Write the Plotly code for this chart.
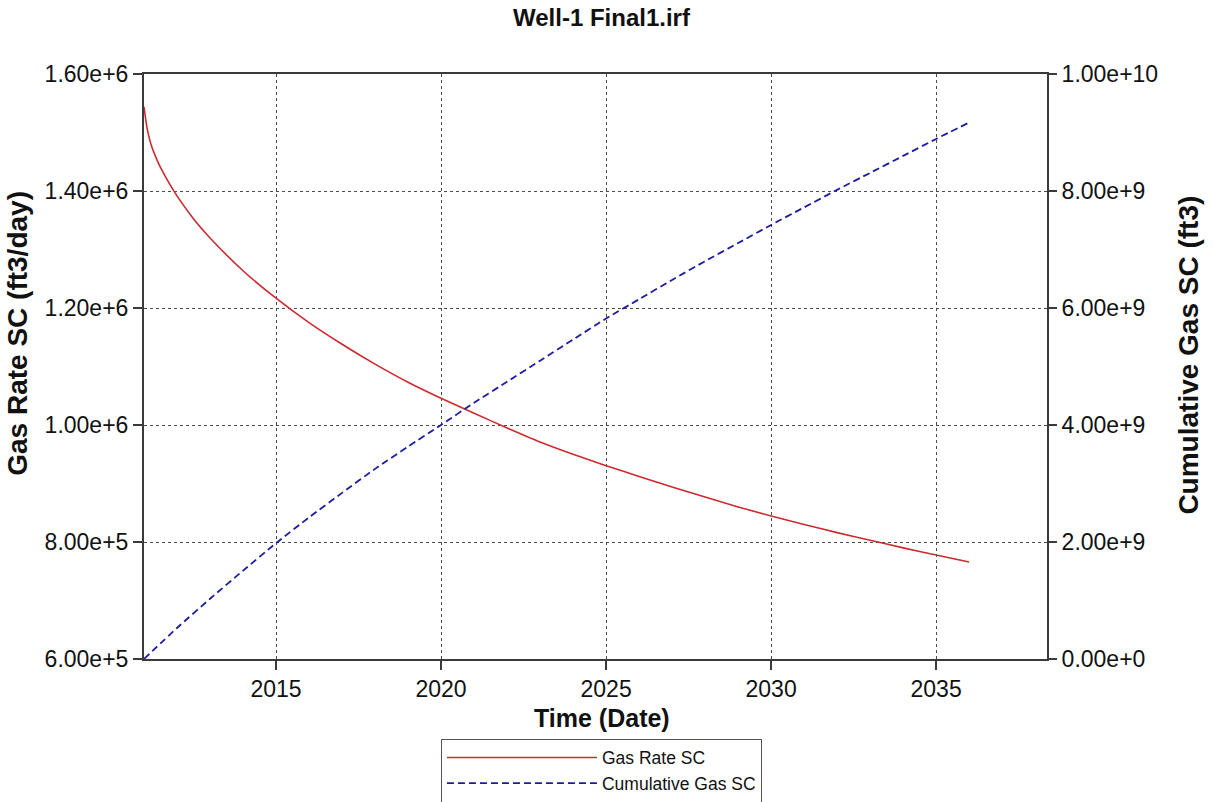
import plotly.graph_objects as go

# ---- data ----
rate_dates = ["2011-01-01", "2011-02-01", "2011-03-01", "2011-04-01", "2011-06-01", "2011-07-01",
              "2011-10-01", "2012-01-01", "2012-07-01", "2013-01-01", "2014-01-01", "2015-01-01",
              "2016-01-01", "2017-01-01", "2018-01-01", "2019-01-01", "2020-01-01", "2021-01-01",
              "2022-01-01", "2023-01-01", "2024-01-01", "2025-01-01", "2026-01-01", "2027-01-01",
              "2028-01-01", "2029-01-01", "2030-01-01", "2031-01-01", "2032-01-01", "2033-01-01",
              "2034-01-01", "2035-01-01", "2036-01-01"]
gas_rate = [1.544e6, 1.510e6, 1.490e6, 1.474e6, 1.4507e6, 1.4407e6,
            1.4147e6, 1.3917e6, 1.3527e6, 1.3197e6, 1.2637e6, 1.2167e6,
            1.175e6, 1.138e6, 1.104e6, 1.073e6, 1.0456e6, 1.020e6,
            0.995e6, 0.971e6, 0.950e6, 0.9305e6, 0.912e6, 0.894e6,
            0.877e6, 0.860e6, 0.8444e6, 0.830e6, 0.816e6, 0.803e6,
            0.790e6, 0.7778e6, 0.7658e6]

cum_dates = ["2011-01-01", "2012-01-01", "2013-01-01", "2014-01-01", "2015-01-01", "2016-01-01",
             "2017-01-01", "2018-01-01", "2019-01-01", "2020-01-01", "2021-01-01", "2022-01-01",
             "2023-01-01", "2024-01-01", "2025-01-01", "2026-01-01", "2027-01-01", "2028-01-01",
             "2029-01-01", "2030-01-01", "2031-01-01", "2032-01-01", "2033-01-01", "2034-01-01",
             "2035-01-01", "2036-01-01"]
cum_gas = [0.0, 0.53e9, 1.03e9, 1.51e9, 1.98e9, 2.42e9,
           2.84e9, 3.25e9, 3.63e9, 4.00e9, 4.38e9, 4.74e9,
           5.10e9, 5.46e9, 5.82e9, 6.15e9, 6.48e9, 6.80e9,
           7.11e9, 7.42e9, 7.72e9, 8.02e9, 8.31e9, 8.60e9,
           8.89e9, 9.17e9]

x_tick_vals = ["2015-01-01", "2020-01-01", "2025-01-01", "2030-01-01", "2035-01-01"]
x_tick_text = ["2015", "2020", "2025", "2030", "2035"]
y1_tick_vals = [6e5, 8e5, 1.0e6, 1.2e6, 1.4e6, 1.6e6]
y1_tick_text = ["6.00e+5", "8.00e+5", "1.00e+6", "1.20e+6", "1.40e+6", "1.60e+6"]
y2_tick_vals = [0, 2e9, 4e9, 6e9, 8e9, 1e10]
y2_tick_text = ["0.00e+0", "2.00e+9", "4.00e+9", "6.00e+9", "8.00e+9", "1.00e+10"]

FONT = "Liberation Sans, Arial, sans-serif"
AXIS_COLOR = "#3a3a3a"
GRID_COLOR = "#4a4a4a"

fig = go.Figure()
fig.add_trace(go.Scatter(x=rate_dates, y=gas_rate, name="Gas Rate SC", mode="lines",
                         line=dict(color="#cc2a2e", width=1.6, shape="spline", smoothing=0.6),
                         yaxis="y"))
fig.add_trace(go.Scatter(x=cum_dates, y=cum_gas, name="Cumulative Gas SC", mode="lines",
                         line=dict(color="#1c1c9e", width=1.8, dash="7px,4px", shape="spline",
                                   smoothing=0.6),
                         yaxis="y2"))

fig.update_layout(
    width=1213, height=802,
    margin=dict(l=144, r=166, t=74, b=143, autoexpand=False),
    paper_bgcolor="white", plot_bgcolor="white",
    font=dict(family=FONT, color="#111111"),
    title=dict(text="Well-1 Final1.irf", xref="paper", x=0.5066, xanchor="center",
               yref="container", y=0.978, yanchor="middle",
               font=dict(family=FONT, size=24, weight="bold", color="#111111")),
    xaxis=dict(
        type="date", range=["2011-01-01", "2038-05-12"], automargin=False,
        tickvals=x_tick_vals, ticktext=x_tick_text,
        ticks="outside", ticklen=9, tickwidth=1.5, tickcolor=AXIS_COLOR,
        tickfont=dict(family=FONT, size=23),
        showgrid=True, gridcolor=GRID_COLOR, griddash="dot", gridwidth=1,
        showline=True, linecolor=AXIS_COLOR, linewidth=1.5, mirror=True,
        zeroline=False,
    ),
    yaxis=dict(
        range=[6e5, 1.6e6], tickvals=y1_tick_vals, ticktext=y1_tick_text, automargin=False,
        ticks="outside", ticklen=9, tickwidth=1.5, tickcolor=AXIS_COLOR,
        tickfont=dict(family=FONT, size=23),
        showgrid=True, gridcolor=GRID_COLOR, griddash="dot", gridwidth=1,
        showline=True, linecolor=AXIS_COLOR, linewidth=2, zeroline=False,
    ),
    yaxis2=dict(
        range=[0, 1e10], tickvals=y2_tick_vals, ticktext=y2_tick_text, automargin=False,
        overlaying="y", side="right",
        ticks="outside", ticklen=8, tickwidth=1.5, tickcolor=AXIS_COLOR,
        tickfont=dict(family=FONT, size=23),
        showgrid=False, showline=True, linecolor=AXIS_COLOR, linewidth=2, zeroline=False,
    ),
    legend=dict(
        orientation="v", x=0.5066, xanchor="center", y=-0.136, yanchor="top",
        bgcolor="white", bordercolor="#555555", borderwidth=1,
        font=dict(family=FONT, size=17.5),
        itemwidth=150, tracegroupgap=0,
    ),
    showlegend=True,
)

# axis titles placed as in the reference
fig.add_annotation(text="Time (Date)", xref="paper", yref="paper",
                   x=0.5072, y=-0.1009, xanchor="center", yanchor="middle", showarrow=False,
                   font=dict(family=FONT, size=25, weight="bold", color="#111111"))
fig.add_annotation(text="Gas Rate SC (ft3/day)", textangle=-90, xref="paper", yref="paper",
                   x=-0.1395, y=0.556, xanchor="center", yanchor="middle", showarrow=False,
                   font=dict(family=FONT, size=28, weight="bold", color="#111111"))
fig.add_annotation(text="Cumulative Gas SC (ft3)", textangle=-90, xref="paper", yref="paper",
                   x=1.1564, y=0.519, xanchor="center", yanchor="middle", showarrow=False,
                   font=dict(family=FONT, size=28, weight="bold", color="#111111"))

fig.write_html("out.html", config={"displayModeBar": False},
               post_script="document.body.style.margin='0';")
